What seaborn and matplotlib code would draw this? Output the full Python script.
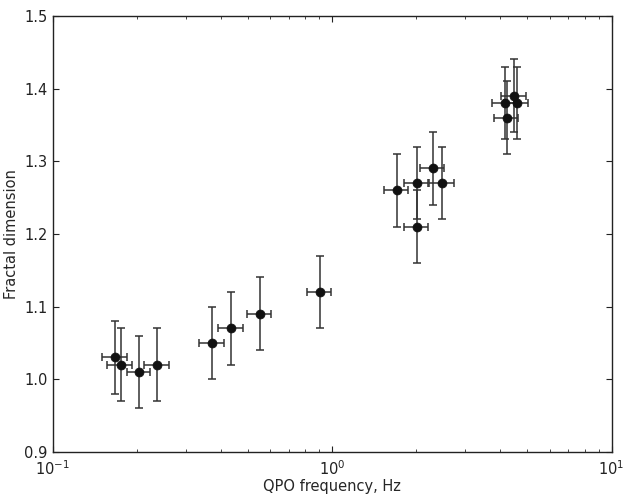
import numpy as np
import pandas as pd
import matplotlib
matplotlib.use('Agg')
import matplotlib.pyplot as plt
import seaborn as sns

# QPO frequency (Hz) and fractal dimension
freq = [0.167, 0.175, 0.204, 0.237, 0.372, 0.436, 0.552, 0.904,
        1.70, 2.01, 2.01, 2.29, 2.48, 4.15, 4.22, 4.47, 4.58]
fdim = [1.03, 1.02, 1.01, 1.02, 1.05, 1.07, 1.09, 1.12,
        1.26, 1.27, 1.21, 1.29, 1.27, 1.38, 1.36, 1.39, 1.38]
freq_err = [0.017, 0.018, 0.020, 0.024, 0.037, 0.044, 0.055, 0.090,
            0.17, 0.20, 0.20, 0.23, 0.25, 0.42, 0.42, 0.45, 0.46]
fdim_err = [0.05] * 17

df = pd.DataFrame({'freq': freq, 'fdim': fdim})

sns.set_style('ticks')
plt.rcParams['font.family'] = ['DejaVu Sans']
plt.rcParams['xtick.direction'] = 'in'
plt.rcParams['ytick.direction'] = 'in'
plt.rcParams['xtick.top'] = True
plt.rcParams['ytick.right'] = True

fig = plt.figure(figsize=(6.26, 4.96), dpi=100)
ax = fig.add_axes([0.084, 0.089, 0.893, 0.879])

ax.errorbar(freq, fdim, xerr=freq_err, yerr=fdim_err, fmt='none',
            ecolor='#333333', elinewidth=1.1, capsize=3, capthick=1.1, zorder=2)
sns.scatterplot(data=df, x='freq', y='fdim', ax=ax, color='#111111',
                s=42, edgecolor='#111111', linewidth=0.5, zorder=3)

ax.set_xscale('log')
ax.set_xlim(0.1, 10)
ax.set_ylim(0.9, 1.5)
ax.set_yticks(np.arange(0.9, 1.51, 0.1))
ax.set_yticklabels(['0.9', '1.0', '1.1', '1.2', '1.3', '1.4', '1.5'])
ax.tick_params(which='major', length=4, width=0.8, labelsize=10.5, colors='#222222')
ax.tick_params(which='minor', length=2, width=0.6)
ax.tick_params(axis='x', pad=5)
for s in ax.spines.values():
    s.set_linewidth(1.0)
    s.set_color('#222222')

ax.set_xlabel('QPO frequency, Hz', fontsize=10.5, labelpad=1)
ax.set_ylabel('Fractal dimension', fontsize=10.5)

fig.savefig('out.png', dpi=100)
